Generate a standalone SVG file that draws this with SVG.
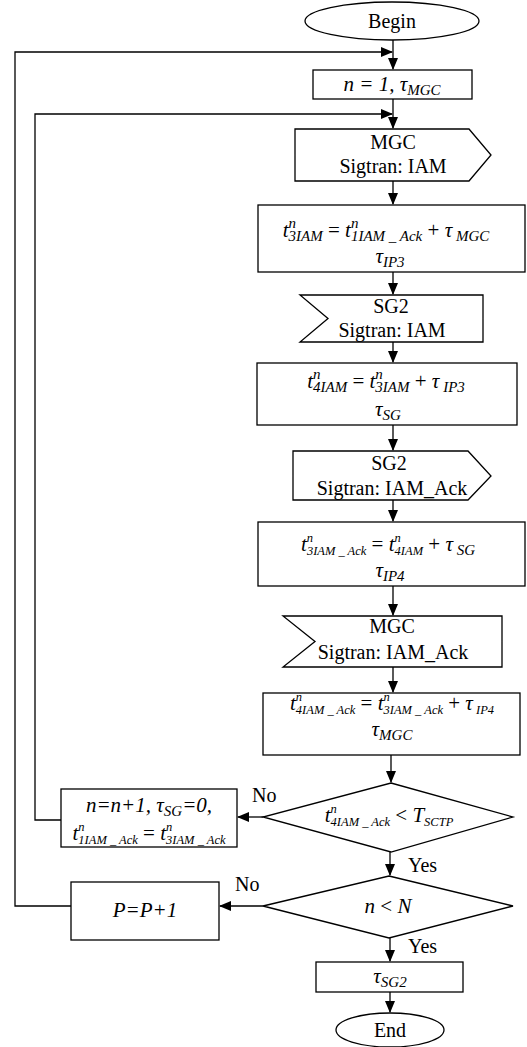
<svg xmlns="http://www.w3.org/2000/svg" width="527" height="1047" viewBox="0 0 527 1047" font-family="Liberation Serif, Times New Roman, DejaVu Serif, serif">
<defs>
<marker id="arr" markerUnits="userSpaceOnUse" markerWidth="12" markerHeight="10" refX="11" refY="5" orient="auto">
<path d="M0,0 L12,5 L0,10 z" fill="#000"/>
</marker>
<style>
.shape{fill:#fff;stroke:#000;stroke-width:1.3}
.conn{fill:none;stroke:#000;stroke-width:1.3}
.t{font-size:20px;fill:#000}
.m{font-size:21px;font-style:italic;fill:#000}
.s{font-size:15px}
.ss{font-size:12.5px}
.u{font-style:normal}
</style>
</defs>
<rect width="527" height="1047" fill="#fff"/>

<g id="connectors">
<path class="conn" d="M393,40 V69" marker-end="url(#arr)"/>
<path class="conn" d="M71,906 H15 V52 H392" marker-end="url(#arr)"/>
<path class="conn" d="M393,99 V128" marker-end="url(#arr)"/>
<path class="conn" d="M61,820 H35 V114 H392" marker-end="url(#arr)"/>
<path class="conn" d="M393,181 V204" marker-end="url(#arr)"/>
<path class="conn" d="M393,272 V294" marker-end="url(#arr)"/>
<path class="conn" d="M393,342 V362" marker-end="url(#arr)"/>
<path class="conn" d="M393,425 V450" marker-end="url(#arr)"/>
<path class="conn" d="M393,500 V521" marker-end="url(#arr)"/>
<path class="conn" d="M393,586 V615" marker-end="url(#arr)"/>
<path class="conn" d="M393,667 V692" marker-end="url(#arr)"/>
<path class="conn" d="M391,755 V782" marker-end="url(#arr)"/>
<path class="conn" d="M263,817 H238" marker-end="url(#arr)"/>
<path class="conn" d="M390,852 V875" marker-end="url(#arr)"/>
<path class="conn" d="M263,906 H220" marker-end="url(#arr)"/>
<path class="conn" d="M390,938 V961" marker-end="url(#arr)"/>
<path class="conn" d="M390,992 V1012" marker-end="url(#arr)"/>
<text class="t" x="252" y="802">No</text>
<text class="t" x="408" y="872">Yes</text>
<text class="t" x="235" y="891">No</text>
<text class="t" x="408" y="953">Yes</text>
</g>

<g id="begin">
<ellipse class="shape" cx="392" cy="21" rx="87" ry="19"/>
<text class="t" x="392" y="28" text-anchor="middle">Begin</text>
</g>

<g id="init">
<rect class="shape" x="313" y="70" width="159" height="29"/>
<text class="m" x="392" y="91" text-anchor="middle">n = 1, τ<tspan class="s" dy="4">MGC</tspan></text>
</g>

<g id="mgc-send-iam">
<polygon class="shape" points="295,129 469,129 491,155 469,181 295,181"/>
<text class="t" x="393" y="149" text-anchor="middle">MGC</text>
<text class="t" x="393" y="173" text-anchor="middle">Sigtran: IAM</text>
</g>

<g id="t3iam">
<rect class="shape" x="258" y="205" width="267" height="67"/>
<text class="m" x="386" y="237" text-anchor="middle">t<tspan class="s" dy="-9">n</tspan><tspan class="s" dx="-7.5" dy="13">3IAM</tspan><tspan class="u" dy="-4"> = </tspan>t<tspan class="s" dy="-9">n</tspan><tspan class="s" dx="-7.5" dy="13">1IAM _ Ack</tspan><tspan class="u" dy="-4"> + </tspan>τ<tspan class="s" dy="4"> MGC</tspan></text>
<text class="m" x="390" y="263" text-anchor="middle">τ<tspan class="s" dy="4">IP3</tspan></text>
</g>

<g id="sg2-recv-iam">
<polygon class="shape" points="300,295 483,295 483,342 300,342 328,318.5"/>
<text class="t" x="391" y="313" text-anchor="middle">SG2</text>
<text class="t" x="392" y="337" text-anchor="middle">Sigtran: IAM</text>
</g>

<g id="t4iam">
<rect class="shape" x="257" y="363" width="260" height="62"/>
<text class="m" x="386" y="388" text-anchor="middle">t<tspan class="s" dy="-9">n</tspan><tspan class="s" dx="-7.5" dy="13">4IAM</tspan><tspan class="u" dy="-4"> = </tspan>t<tspan class="s" dy="-9">n</tspan><tspan class="s" dx="-7.5" dy="13">3IAM</tspan><tspan class="u" dy="-4"> + </tspan>τ<tspan class="s" dy="4"> IP3</tspan></text>
<text class="m" x="388" y="416" text-anchor="middle">τ<tspan class="s" dy="4">SG</tspan></text>
</g>

<g id="sg2-send-ack">
<polygon class="shape" points="293,451 468,451 491,476 468,500 293,500"/>
<text class="t" x="389" y="470" text-anchor="middle">SG2</text>
<text class="t" x="392" y="495" text-anchor="middle">Sigtran: IAM_Ack</text>
</g>

<g id="t3ack">
<rect class="shape" x="258" y="522" width="267" height="64"/>
<text class="m" x="388" y="551" text-anchor="middle">t<tspan class="ss" dy="-9">n</tspan><tspan class="ss" dx="-6.2" dy="13">3IAM _ Ack</tspan><tspan class="u" dy="-4"> = </tspan>t<tspan class="ss" dy="-9">n</tspan><tspan class="ss" dx="-6.2" dy="13">4IAM</tspan><tspan class="u" dy="-4"> + </tspan>τ<tspan class="s" dy="4"> SG</tspan></text>
<text class="m" x="390" y="577" text-anchor="middle">τ<tspan class="s" dy="4">IP4</tspan></text>
</g>

<g id="mgc-recv-ack">
<polygon class="shape" points="283,616 502,616 502,667 283,667 315,641.5"/>
<text class="t" x="392" y="633" text-anchor="middle">MGC</text>
<text class="t" x="393" y="659" text-anchor="middle">Sigtran: IAM_Ack</text>
</g>

<g id="t4ack">
<rect class="shape" x="263" y="693" width="257" height="62"/>
<text class="m" x="392" y="710" text-anchor="middle">t<tspan class="ss" dy="-9">n</tspan><tspan class="ss" dx="-6.2" dy="13">4IAM _ Ack</tspan><tspan class="u" dy="-4"> = </tspan>t<tspan class="ss" dy="-9">n</tspan><tspan class="ss" dx="-6.2" dy="13">3IAM _ Ack</tspan><tspan class="u" dy="-4"> + </tspan>τ<tspan class="ss" dy="4"> IP4</tspan></text>
<text class="m" x="392" y="736" text-anchor="middle">τ<tspan class="s" dy="4">MGC</tspan></text>
</g>

<g id="decision-sctp">
<polygon class="shape" points="391,783 513,817 391,852 263,817"/>
<text class="m" x="389" y="822" text-anchor="middle">t<tspan class="ss" dy="-9">n</tspan><tspan class="ss" dx="-6.2" dy="13">4IAM _ Ack</tspan><tspan class="u" dy="-4"> &lt; </tspan>T<tspan class="ss" dy="4">SCTP</tspan></text>
</g>

<g id="retry">
<rect class="shape" x="61" y="789" width="176" height="58"/>
<text class="m" x="149" y="812" text-anchor="middle">n=n+1, τ<tspan class="s" dy="4">SG</tspan><tspan dy="-4">=0,</tspan></text>
<text class="m" x="149" y="840" text-anchor="middle">t<tspan class="ss" dy="-9">n</tspan><tspan class="ss" dx="-6.2" dy="13">1IAM _ Ack</tspan><tspan class="u" dy="-4"> = </tspan>t<tspan class="ss" dy="-9">n</tspan><tspan class="ss" dx="-6.2" dy="13">3IAM _ Ack</tspan></text>
</g>

<g id="decision-n">
<polygon class="shape" points="389,876 513,906 389,938 263,906"/>
<text class="m" x="388" y="913" text-anchor="middle">n <tspan class="u">&lt;</tspan> N</text>
</g>

<g id="incp">
<rect class="shape" x="71" y="882" width="148" height="58"/>
<text class="m" x="145" y="917" text-anchor="middle">P=P+1</text>
</g>

<g id="tsg2">
<rect class="shape" x="316" y="962" width="147" height="30"/>
<text class="m" x="390" y="983" text-anchor="middle">τ<tspan class="s" dy="4">SG2</tspan></text>
</g>

<g id="end">
<ellipse class="shape" cx="390" cy="1030" rx="54" ry="17"/>
<text class="t" x="390" y="1037" text-anchor="middle">End</text>
</g>
</svg>
